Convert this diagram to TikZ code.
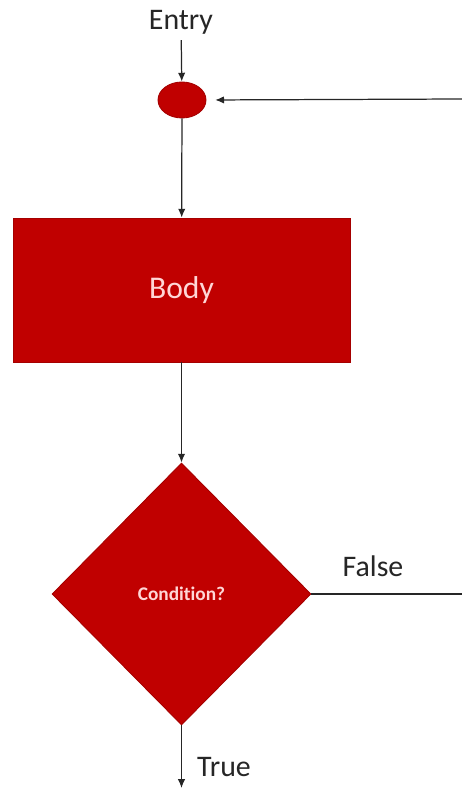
\documentclass[tikz,border=0pt]{standalone}
\usepackage{fontspec}
\setmainfont{Carlito}[Ligatures=NoCommon]
\usetikzlibrary{shapes.geometric, arrows.meta}

\definecolor{boxred}{RGB}{192,0,0}
\definecolor{edgered}{RGB}{165,0,0}
\definecolor{boxtext}{RGB}{255,214,214}
\definecolor{ink}{RGB}{38,38,38}

\tikzset{
    flowbox/.style={fill=boxred, draw=edgered, line width=0.5pt,
        text=boxtext, inner sep=0pt},
    flowlabel/.style={text=ink, font=\fontsize{17}{20}\selectfont},
    flowline/.style={draw=ink, line width=0.7pt},
    flowarrow/.style={flowline, -{Latex[length=5pt, width=4.2pt]}}
}

\begin{document}
\begin{tikzpicture}[x=0.02cm, y=-0.02cm]
        \useasboundingbox (0, 0) rectangle (462, 790);
        \node[flowlabel] (entry) at (181, 22) {Entry};
        \node[flowbox, ellipse, minimum width=0.96cm, minimum height=0.72cm]
            (join) at (182, 100) {};
        \node[flowbox, rectangle, minimum width=6.74cm, minimum height=2.88cm,
            font=\fontsize{18}{21}\selectfont] (body) at (181.5, 290) {Body};
        \node[flowbox, diamond, aspect=1, minimum width=5.18cm,
            minimum height=5.24cm, font=\bfseries\fontsize{11}{13}\selectfont]
            (cond) at (181.5, 594) {Condition?};
        \coordinate (back) at (462, 99);
        \coordinate (falseend) at (462, 594);
        \coordinate (trueend) at (181.5, 788);
        \draw[flowarrow] (entry) -- (join);
        \draw[flowarrow, shorten >=5] (back) -- (join.east);
        \foreach \from/\to in {join/body, body/cond}{
            \draw[flowarrow] (\from) -- (\to);
        }
        \draw[flowline] (cond.east) -- (falseend);
        \draw[flowarrow] (cond.south) -- (trueend);
        \node[flowlabel] (falselabel) at (373, 566) {False};
        \node[flowlabel] (truelabel) at (224, 767) {True};
    \end{tikzpicture}
\end{document}
